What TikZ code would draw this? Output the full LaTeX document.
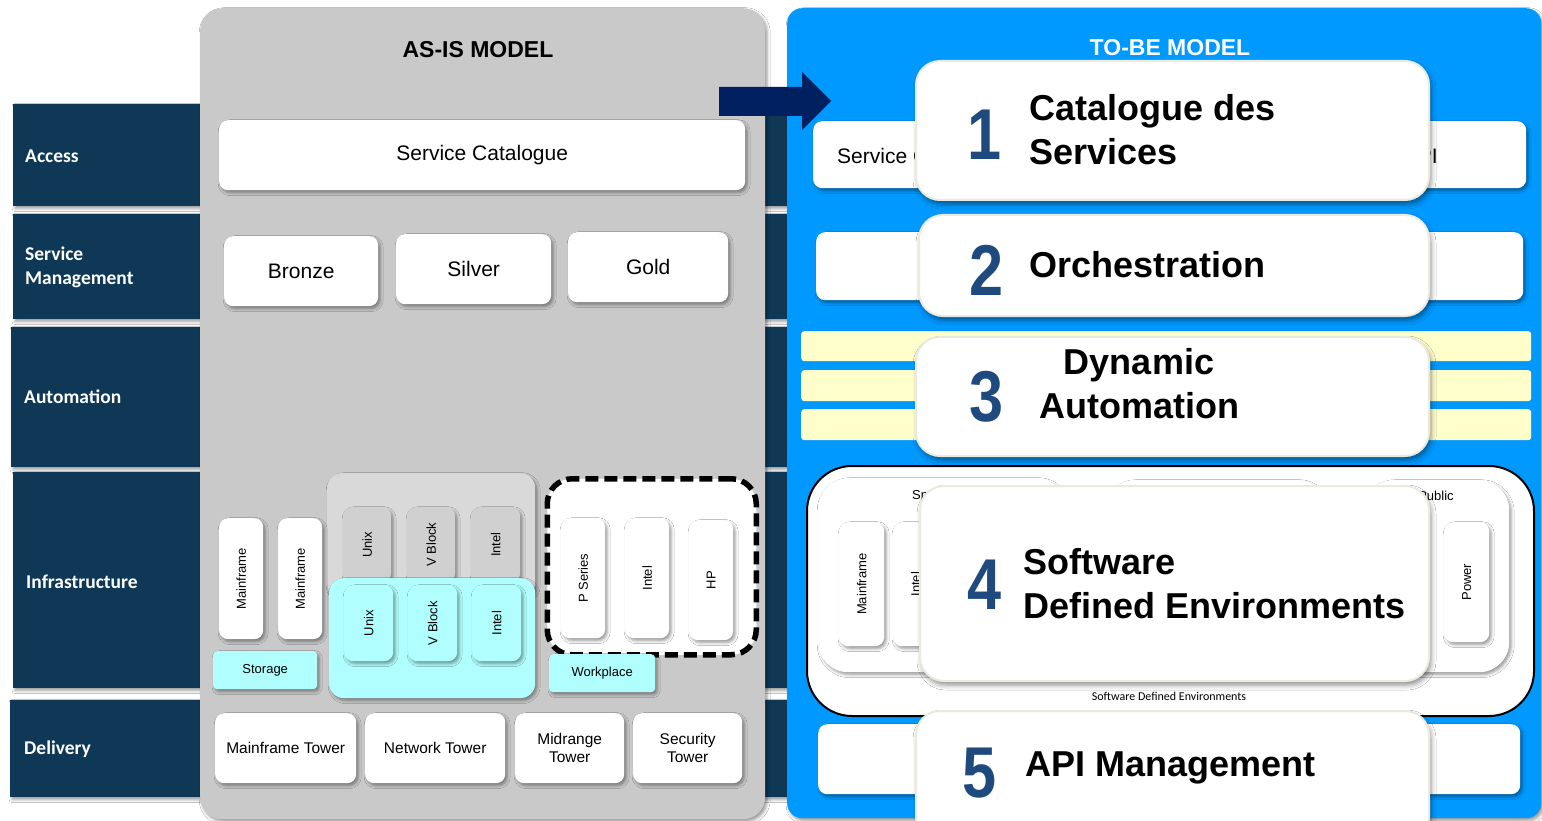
\documentclass[tikz,border=0pt]{standalone}
\usepackage{fontspec}
\setmainfont{Liberation Sans}
\newfontfamily\calib{Carlito}
\usetikzlibrary{shadows.blur}
\definecolor{bandc}{HTML}{0F3857}
\definecolor{panelgray}{HTML}{C9C9C9}
\definecolor{tobeblue}{HTML}{0099FF}
\definecolor{cyanbox}{HTML}{B0FEFE}
\definecolor{lgray}{HTML}{D9D9D9}
\definecolor{igray}{HTML}{D0D0D0}
\definecolor{navyarrow}{HTML}{002060}
\definecolor{digitblue}{HTML}{1F4A7E}
\definecolor{cream}{HTML}{ECEADF}
\definecolor{paleyellow}{HTML}{FFFFCC}
\tikzset{
 sh/.style={blur shadow={shadow xshift=2pt,shadow yshift=-2.5pt,shadow blur radius=3pt,shadow opacity=40}},
 band/.style={fill=bandc, anchor=north west, inner sep=0pt, outer sep=0pt, sh},
 lbl/.style={text=white, font=\calib\bfseries\fontsize{19.5}{24}\selectfont, anchor=west, align=left, inner sep=0pt},
 panel/.style={anchor=north west, inner sep=0pt, sh},
 wbox/.style={fill=white, rounded corners=9pt, anchor=north west, inner sep=0pt, sh},
 cbox/.style={wbox, fill=cyanbox},
 gbox/.style={wbox, fill=igray},
 ybar/.style={fill=paleyellow, rounded corners=3pt, anchor=north west, inner sep=0pt},
 big/.style={fill=white, draw=cream, line width=2pt, rounded corners=24pt, anchor=north west, inner sep=0pt, blur shadow={shadow xshift=2pt,shadow yshift=-4pt,shadow blur radius=5pt,shadow opacity=45}},
 digit/.style={text=digitblue, font=\bfseries\fontsize{72}{72}\selectfont, inner sep=0pt},
 bigtxt/.style={font=\bfseries\fontsize{36}{44}\selectfont, align=left, anchor=west, inner sep=0pt},
 f21/.style={font=\fontsize{21}{25}\selectfont},
 f13/.style={font=\fontsize{13}{15}\selectfont},
 f15/.style={font=\fontsize{15.5}{18}\selectfont, align=center},
}
\begin{document}
\begin{tikzpicture}[x=1pt,y=-1pt]
\useasboundingbox (0,0) rectangle (1542,821);
\fill[white] (0,0) rectangle (1542,821);
% bands
\node[band, minimum width=790pt, minimum height=102pt] (bA) at (13,104) {};
\node[band, minimum width=790pt, minimum height=105pt] (bS) at (13,214) {};
\node[band, minimum width=792pt, minimum height=140pt] (bU) at (11,327) {};
\node[band, minimum width=790pt, minimum height=216pt] (bI) at (13,472) {};
\node[band, minimum width=793pt, minimum height=97pt] (bD) at (10,700) {};
\node[lbl] (lA) at (25,156) {Access};
\node[lbl] (lS) at (25,267) {Service\\Management};
\node[lbl] (lU) at (24,397) {Automation};
\node[lbl] (lI) at (26,582) {Infrastructure};
\node[lbl] (lD) at (24,749) {Delivery};
% panels
\node[panel, fill=panelgray, rounded corners=22pt, minimum width=565pt, minimum height=811pt] (asis) at (200,8) {};
\node[panel, fill=tobeblue, rounded corners=15pt, minimum width=754pt, minimum height=810pt] (tobe) at (787,8) {};
\node[font=\bfseries\fontsize{23}{27}\selectfont] (tAS) at (478,50) {AS-IS MODEL};
\node[font=\bfseries\fontsize{23}{27}\selectfont, text=white] (tTB) at (1170,48) {TO-BE MODEL};
% arrow
\fill[navyarrow] (719,87) -- (802,87) -- (802,72) -- (831,101) -- (802,130) -- (802,116) -- (719,116) -- cycle;
% AS-IS contents
\node[wbox, f21, minimum width=526pt, minimum height=70pt] (sc) at (219,120) {Service Catalogue};
\node[wbox, f21, minimum width=154pt, minimum height=70pt] (br) at (224,236) {Bronze};
\node[wbox, f21, minimum width=155pt, minimum height=70pt] (si) at (396,234) {Silver};
\node[wbox, f21, minimum width=160pt, minimum height=70pt] (go) at (568,232) {Gold};
\node[wbox, fill=lgray, rounded corners=15pt, minimum width=208pt, minimum height=125pt] (ggrp) at (327,473) {};
\node[gbox, f13, minimum width=48pt, minimum height=75pt] (gu) at (343,507) {\rotatebox{90}{Unix}};
\node[gbox, f13, minimum width=48pt, minimum height=75pt] (gv) at (407,507) {\rotatebox{90}{V Block}};
\node[gbox, f13, minimum width=49pt, minimum height=75pt] (gi) at (471,507) {\rotatebox{90}{Intel}};
\node[cbox, rounded corners=15pt, minimum width=206pt, minimum height=120pt] (cgrp) at (329,578) {};
\node[cbox, f13, minimum width=49pt, minimum height=76pt] (cu) at (344,585) {\rotatebox{90}{Unix}};
\node[cbox, f13, minimum width=49pt, minimum height=76pt] (cv) at (408,585) {\rotatebox{90}{V Block}};
\node[cbox, f13, minimum width=49pt, minimum height=76pt] (ci) at (472,585) {\rotatebox{90}{Intel}};
\node[wbox, f13, minimum width=44pt, minimum height=121pt] (m1) at (219,518) {\rotatebox{90}{Mainframe}};
\node[wbox, f13, minimum width=44pt, minimum height=121pt] (m2) at (278,518) {\rotatebox{90}{Mainframe}};
\node[cbox, f13, rounded corners=4pt, minimum width=104pt, minimum height=38pt] (st) at (213,651) {Storage};
\node[fill=white, draw=black, line width=5.5pt, dash pattern=on 13pt off 6pt, rounded corners=25pt, anchor=north west, inner sep=0pt, minimum width=209pt, minimum height=176pt] (dash) at (544.5,476) {};
\node[wbox, f13, minimum width=44pt, minimum height=120pt] (ps) at (561,518) {\rotatebox{90}{P Series}};
\node[wbox, f13, minimum width=44pt, minimum height=120pt] (pi) at (625,518) {\rotatebox{90}{Intel}};
\node[wbox, f13, minimum width=44pt, minimum height=120pt] (hp) at (689,520) {\rotatebox{90}{HP}};
\node[cbox, f13, rounded corners=4pt, minimum width=106pt, minimum height=38pt] (wp) at (549,654) {Workplace};
\node[wbox, f15, minimum width=141pt, minimum height=70pt] (mt) at (215,713) {Mainframe Tower};
\node[wbox, f15, minimum width=140pt, minimum height=70pt] (nt) at (365,713) {Network Tower};
\node[wbox, f15, minimum width=109pt, minimum height=70pt] (mdt) at (515,713) {Midrange\\Tower};
\node[wbox, f15, minimum width=109pt, minimum height=70pt] (sct) at (633,713) {Security\\Tower};
% TO-BE background rows
\node[wbox, minimum width=713pt, minimum height=67pt] (r1) at (813,121) {};
\node[f21, anchor=west, inner sep=0pt] (r1a) at (837,156) {Service C};
\node[f21, anchor=east, inner sep=0pt] (r1b) at (1438,156) {API};
\node[wbox, minimum width=707pt, minimum height=68pt] (r2) at (816,232) {};
\node[ybar, minimum width=730pt, minimum height=30pt] (y1) at (801,331) {};
\node[ybar, minimum width=730pt, minimum height=31pt] (y2) at (801,370) {};
\node[ybar, minimum width=730pt, minimum height=31pt] (y3) at (801,409) {};
\node[fill=white, draw=black, line width=2pt, rounded corners=45pt, anchor=north west, inner sep=0pt, minimum width=727pt, minimum height=250pt] (sde) at (806,465) {};
\node[font=\calib\fontsize{12}{14}\selectfont] (sdel) at (1169,696) {Software Defined Environments};
\node[wbox, rounded corners=30pt, minimum width=248pt, minimum height=194pt] (e1) at (818,478) {};
\node[wbox, rounded corners=30pt, minimum width=223pt, minimum height=192pt] (e2) at (1104,480) {};
\node[wbox, rounded corners=30pt, minimum width=146pt, minimum height=192pt] (e3) at (1363,480) {};
\node[f13, anchor=west, inner sep=0pt] (e1t) at (912,496) {Sp};
\node[f13] (e3t) at (1436,496) {Public};
\node[wbox, f13, minimum width=45pt, minimum height=124pt] (em) at (839,522) {\rotatebox{90}{Mainframe}};
\node[wbox, f13, minimum width=45pt, minimum height=124pt] (ei) at (893,522) {\rotatebox{90}{Intel}};
\node[wbox, f13, minimum width=45pt, minimum height=120pt] (ep) at (1444,522) {\rotatebox{90}{Power}};
\node[wbox, minimum width=702pt, minimum height=70pt] (r5) at (818,724) {};
% overlay boxes
\node[big, minimum width=513pt, minimum height=139pt] (k1) at (915,60) {};
\node[digit] (d1) at (985,135) {\scalebox{0.85}[1]{1}};
\node[bigtxt] (t1) at (1029,130) {Catalogue des\\Services};
\node[big, minimum width=510pt, minimum height=101pt] (k2) at (918,214) {};
\node[digit] (d2) at (987,270) {\scalebox{0.85}[1]{2}};
\node[bigtxt] (t2) at (1029,265) {Orchestration};
\node[big, minimum width=513pt, minimum height=119pt] (k3) at (915,336) {};
\node[digit] (d3) at (987,397) {\scalebox{0.85}[1]{3}};
\node[bigtxt, align=center, anchor=center] (t3) at (1139,384) {Dynamic\\Automation};
\node[big, minimum width=509pt, minimum height=195pt] (k4) at (919,485) {};
\node[digit] (d4) at (985,585) {\scalebox{0.85}[1]{4}};
\node[bigtxt] (t4) at (1023,584) {Software\\Defined Environments};
\node[big, minimum width=513pt, minimum height=130pt] (k5) at (915,710) {};
\node[digit] (d5) at (980,773) {\scalebox{0.85}[1]{5}};
\node[bigtxt] (t5) at (1025,768) {API Management};
\end{tikzpicture}
\end{document}
